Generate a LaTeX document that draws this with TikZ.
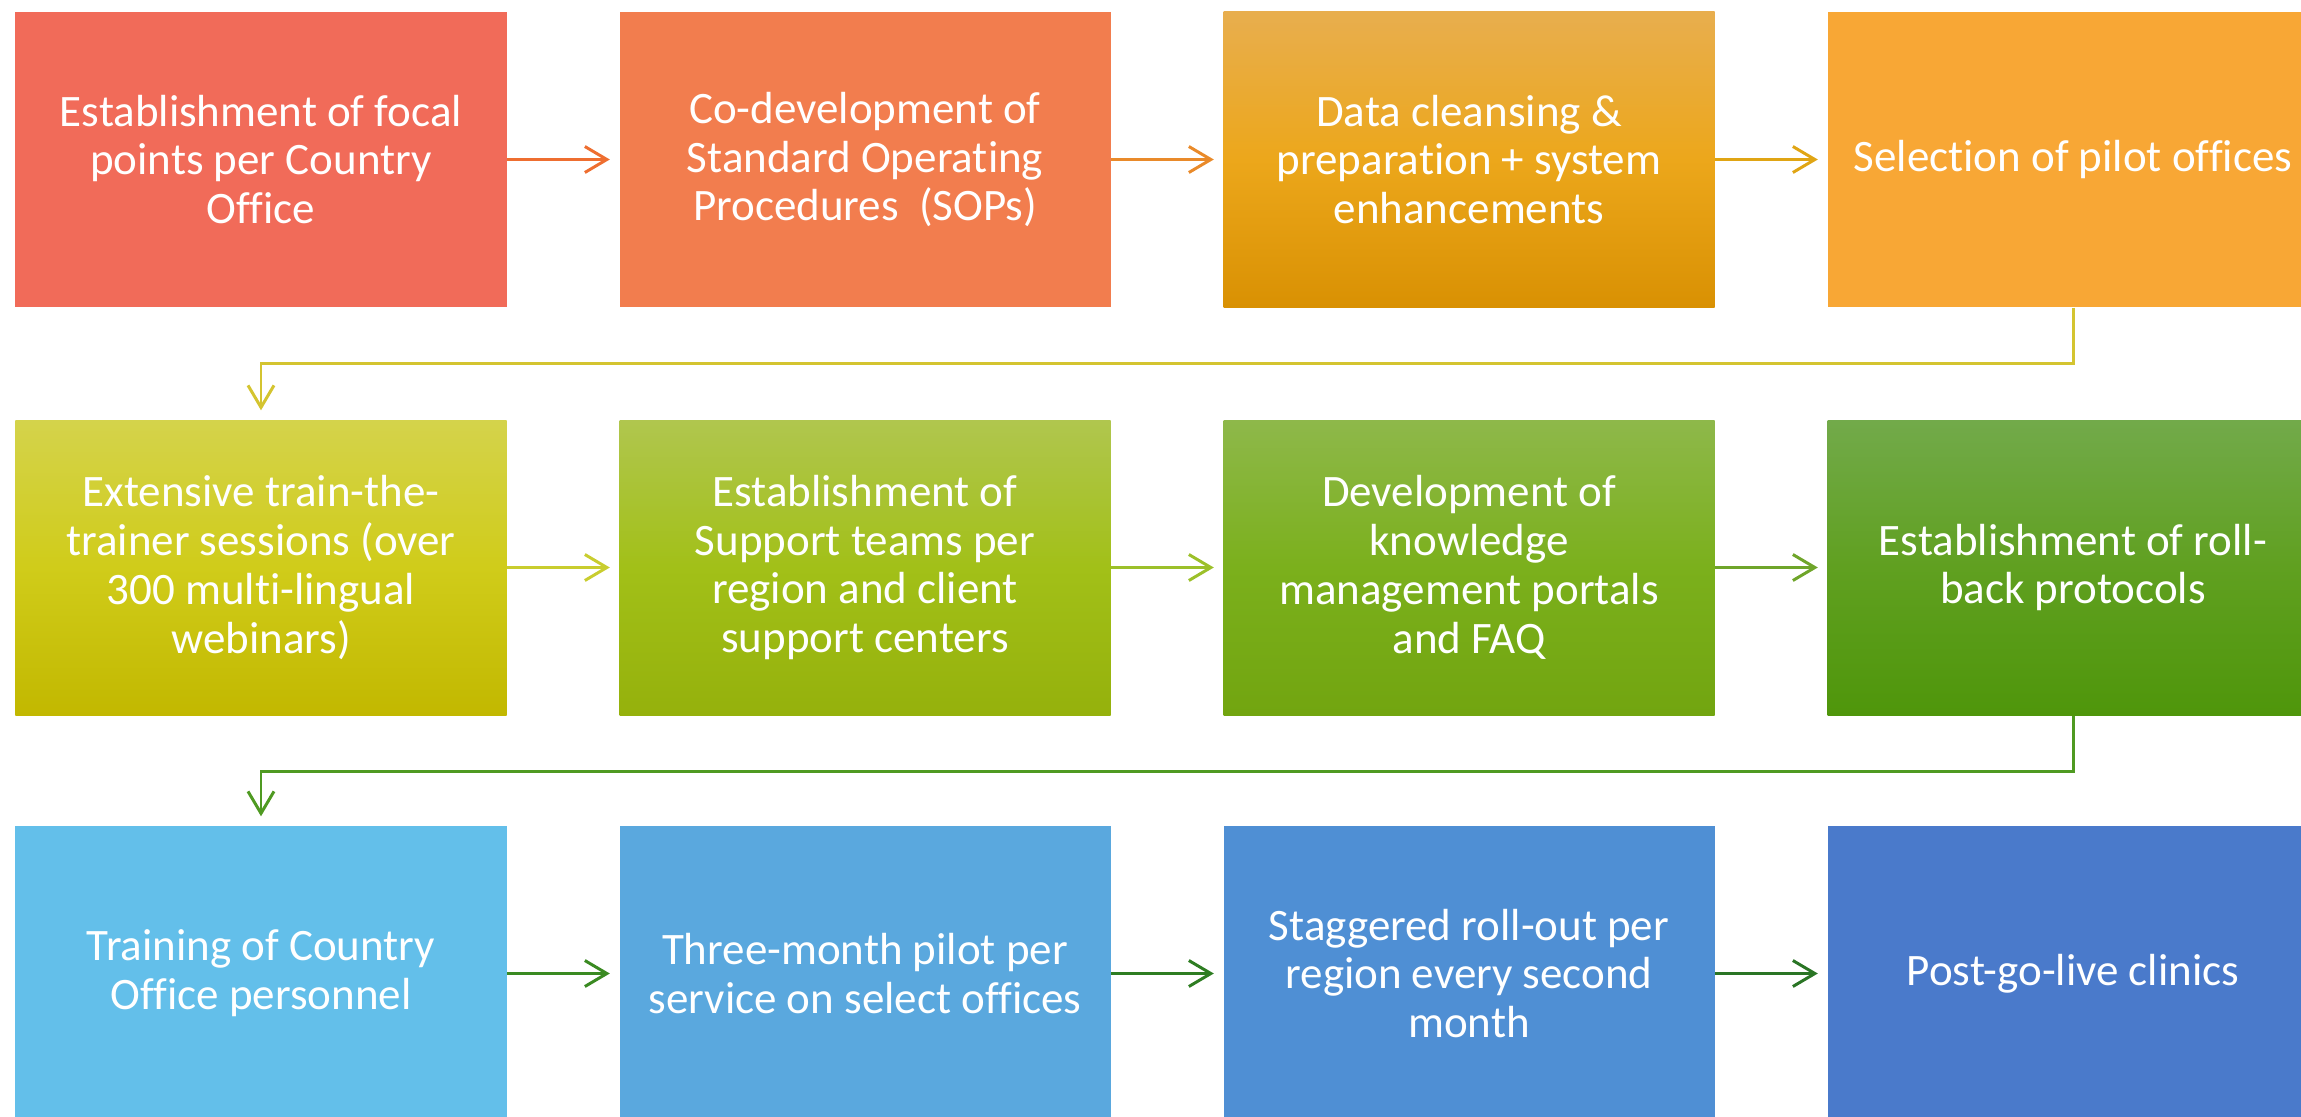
\documentclass[tikz,border=0pt]{standalone}
\usepackage{fontspec}
\setmainfont{Carlito}[Ligatures={NoCommon,NoRare}]
\usetikzlibrary{arrows.meta}

\definecolor{boxA}{HTML}{F16B59}
\definecolor{boxB}{HTML}{F27D4E}
\definecolor{boxCt}{HTML}{E8AE4E}
\definecolor{boxCm}{HTML}{ECA71B}
\definecolor{boxCb}{HTML}{D99103}
\definecolor{boxD}{HTML}{F8A735}
\definecolor{boxEt}{HTML}{D4D34B}
\definecolor{boxEm}{HTML}{D0CC1A}
\definecolor{boxEb}{HTML}{C2B800}
\definecolor{boxFt}{HTML}{B0C64E}
\definecolor{boxFm}{HTML}{A2C018}
\definecolor{boxFb}{HTML}{95B10C}
\definecolor{boxGt}{HTML}{8EB84A}
\definecolor{boxGm}{HTML}{7BB01C}
\definecolor{boxGb}{HTML}{72A510}
\definecolor{boxHt}{HTML}{72AA4A}
\definecolor{boxHm}{HTML}{60A020}
\definecolor{boxHb}{HTML}{4F960B}
\definecolor{boxI}{HTML}{63BFEA}
\definecolor{boxJ}{HTML}{5AA8DE}
\definecolor{boxK}{HTML}{4F8FD4}
\definecolor{boxL}{HTML}{4A7ACB}
\definecolor{arrA}{HTML}{EE6E30}
\definecolor{arrB}{HTML}{E98A2A}
\definecolor{arrC}{HTML}{E0A514}
\definecolor{arrD}{HTML}{D4C430}
\definecolor{arrE}{HTML}{C9CD2F}
\definecolor{arrF}{HTML}{9CC02A}
\definecolor{arrG}{HTML}{6FA52A}
\definecolor{arrH}{HTML}{4F9A22}
\definecolor{arrI}{HTML}{3A8A22}
\definecolor{arrJ}{HTML}{2E7D22}
\definecolor{arrK}{HTML}{2A7525}

\begin{document}
\begin{tikzpicture}[
  box/.style={minimum width=4.91cm,minimum height=2.95cm,inner sep=0pt,
    text=white,align=center,font=\fontsize{12.8}{13.9}\selectfont},
  grad/.style={top color=#1t,bottom color=#1b,middle color=#1m},
  link/.style={line width=0.85pt,shorten >=0.9mm,
    -{Straight Barb[length=2.2mm,width=2.6mm]}}]
  \clip (0,0) rectangle (23.01,11.16);
  \node[box,fill=boxA] (focal) at (2.61,9.565) {Establishment of focal\\points per Country\\Office};
  \node[box,fill=boxB] (sops) at (8.65,9.565) {Co-development of\\Standard Operating\\Procedures\ \ (SOPs)};
  \node[box,grad=boxC] (cleansing) at (14.69,9.565) {Data cleansing \&\\preparation + system\\enhancements};
  \node[box,fill=boxD] (pilots) at (20.73,9.565) {Selection of pilot offices};
  \node[box,grad=boxE] (trainer) at (2.61,5.485) {Extensive train-the-\\trainer sessions (over\\300 multi-lingual\\webinars)};
  \node[box,grad=boxF] (support) at (8.65,5.485) {Establishment of\\Support teams per\\region and client\\support centers};
  \node[box,grad=boxG] (portals) at (14.69,5.485) {Development of\\knowledge\\management portals\\and FAQ};
  \node[box,grad=boxH] (rollback) at (20.73,5.485) {Establishment of roll-\\back protocols};
  \node[box,fill=boxI] (training) at (2.61,1.425) {Training of Country\\Office personnel};
  \node[box,fill=boxJ] (pilotrun) at (8.65,1.425) {Three-month pilot per\\service on select offices};
  \node[box,fill=boxK] (rollout) at (14.69,1.425) {Staggered roll-out per\\region every second\\month};
  \node[box,fill=boxL] (clinics) at (20.73,1.425) {Post-go-live clinics};
  \draw[link,arrA] (focal) -- (sops);
  \draw[link,arrB] (sops) -- (cleansing);
  \draw[link,arrC] (cleansing) -- (pilots);
  \draw[link,arrD] (pilots.south) -- ++(0,-0.56) -| (trainer.north);
  \draw[link,arrE] (trainer) -- (support);
  \draw[link,arrF] (support) -- (portals);
  \draw[link,arrG] (portals) -- (rollback);
  \draw[link,arrH] (rollback.south) -- ++(0,-0.56) -| (training.north);
  \draw[link,arrI] (training) -- (pilotrun);
  \draw[link,arrJ] (pilotrun) -- (rollout);
  \draw[link,arrK] (rollout) -- (clinics);
\end{tikzpicture}
\end{document}
